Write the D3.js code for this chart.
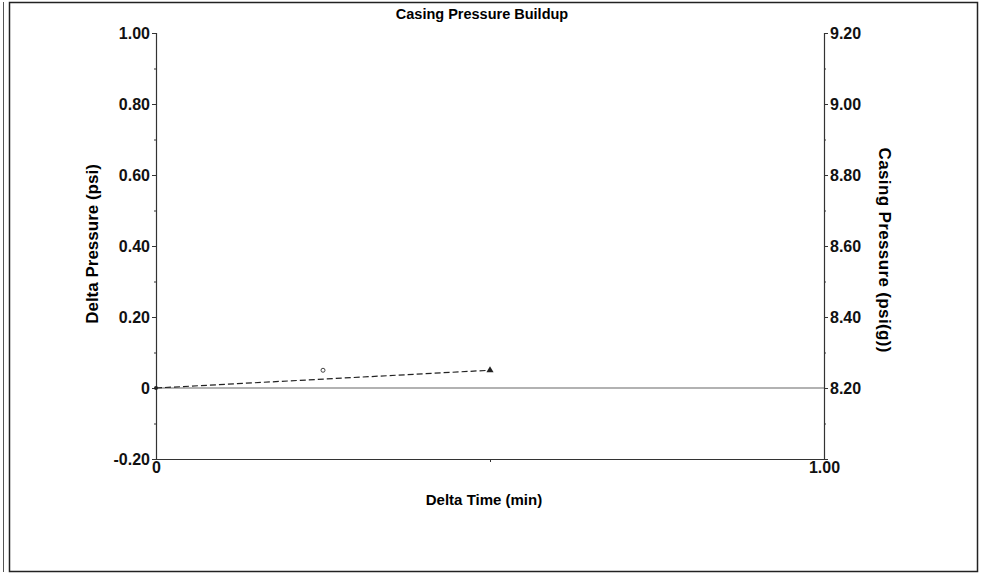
<!DOCTYPE html>
<html>
<head>
<meta charset="utf-8">
<script src="https://cdn.jsdelivr.net/npm/d3@7"></script>
<style>
  body { margin: 0; background: #fff; }
  svg text { font-family: Arial, "Liberation Sans", sans-serif; }
</style>
</head>
<body>
<div class="canvas"></div>
<script>
// data
const leftTicks = [-0.2, 0, 0.2, 0.4, 0.6, 0.8, 1.0];
const rightTicks = [8.2, 8.4, 8.6, 8.8, 9.0, 9.2];
const xTicks = [0, 1.0];
const lineTimes = [0, 0.5];
const lineDeltas = [0, 0.05];
const circleTimes = [0.25];
const circleDeltas = [0.05];

const width = 983;
const height = 574;

const svg = d3
  .select(".canvas")
  .append("svg")
  .attr("width", width)
  .attr("height", height);

// page border (scanned double frame)
svg.append("rect")
  .attr("x", 9.5).attr("y", 2.5)
  .attr("width", 968).attr("height", 569)
  .attr("fill", "none").attr("stroke", "#222").attr("stroke-width", 1.5);
svg.append("line")
  .attr("x1", 3.5).attr("y1", 2).attr("x2", 3.5).attr("y2", 572)
  .attr("stroke", "#555").attr("stroke-width", 1);

const plotLeft = 156, plotRight = 824, plotTop = 33, plotBottom = 459;

const x = d3.scaleLinear().domain([0, 1]).range([plotLeft, plotRight]);
const y = d3.scaleLinear().domain([-0.2, 1.0]).range([plotBottom, plotTop]);
const y2 = d3.scaleLinear().domain([8.0, 9.2]).range([plotBottom, plotTop]);

// plain hyphen for negatives, "0" for zero
const fmt = (d) => (Math.abs(d) < 1e-9 ? "0" : d.toFixed(2));

// left axis
svg.append("g")
  .attr("transform", `translate(${plotLeft},0)`)
  .call(d3.axisLeft(y).tickValues(leftTicks).tickSize(4).tickPadding(2).tickFormat(fmt));
svg.append("g")
  .attr("transform", `translate(${plotLeft},0)`)
  .call(d3.axisLeft(y).tickValues(d3.range(-0.1, 1.0, 0.2)).tickSize(2).tickFormat(""))
  .call((g) => g.select(".domain").remove());

// right axis
svg.append("g")
  .attr("transform", `translate(${plotRight},0)`)
  .call(d3.axisRight(y2).tickValues(rightTicks).tickSize(4).tickPadding(2).tickFormat(fmt));
svg.append("g")
  .attr("transform", `translate(${plotRight},0)`)
  .call(d3.axisRight(y2).tickValues(d3.range(8.1, 9.2, 0.2)).tickSize(2).tickFormat(""))
  .call((g) => g.select(".domain").remove());

// bottom axis
svg.append("g")
  .attr("transform", `translate(0,${plotBottom})`)
  .call(d3.axisBottom(x).tickValues(xTicks).tickSize(0).tickPadding(3).tickFormat(fmt));
svg.append("g")
  .attr("transform", `translate(0,${plotBottom})`)
  .call(d3.axisBottom(x).tickValues([0.5]).tickSize(3).tickFormat(""))
  .call((g) => g.select(".domain").remove());

svg.selectAll(".domain").attr("stroke", "#333").attr("stroke-width", 1.2);
svg.selectAll(".tick line").attr("stroke", "#333");
svg.selectAll(".tick text")
  .attr("font-size", 16)
  .attr("font-weight", "bold")
  .attr("fill", "#111");

// zero line
svg.append("line")
  .attr("x1", x(0)).attr("x2", x(1))
  .attr("y1", y(0)).attr("y2", y(0))
  .attr("stroke", "#666").attr("stroke-width", 1.2);

// dashed series
const pts = lineTimes.map((t, i) => [t, lineDeltas[i]]);
svg.append("path")
  .datum(pts)
  .attr("d", d3.line().x((d) => x(d[0])).y((d) => y(d[1])))
  .attr("fill", "none")
  .attr("stroke", "#222")
  .attr("stroke-width", 1.2)
  .attr("stroke-dasharray", "6,3");

svg.append("circle")
  .attr("cx", x(pts[0][0])).attr("cy", y(pts[0][1]))
  .attr("r", 2).attr("fill", "#222");

svg.append("path")
  .attr("d", d3.symbol().type(d3.symbolTriangle).size(22))
  .attr("transform", `translate(${x(pts[1][0])},${y(pts[1][1])})`)
  .attr("fill", "#222");

svg.selectAll(".open")
  .data(circleTimes)
  .enter()
  .append("circle")
  .attr("class", "open")
  .attr("cx", (d) => x(d))
  .attr("cy", (d, i) => y(circleDeltas[i]))
  .attr("r", 2)
  .attr("fill", "none")
  .attr("stroke", "#444")
  .attr("stroke-width", 1);

// titles
svg.append("text")
  .attr("x", 482).attr("y", 19)
  .attr("text-anchor", "middle")
  .attr("font-size", 14.5).attr("font-weight", "bold")
  .text("Casing Pressure Buildup");

svg.append("text")
  .attr("x", 484).attr("y", 505)
  .attr("text-anchor", "middle")
  .attr("font-size", 15).attr("font-weight", "bold")
  .text("Delta Time (min)");

svg.append("text")
  .attr("transform", "translate(98,244) rotate(-90)")
  .attr("text-anchor", "middle")
  .attr("font-size", 17).attr("font-weight", "bold")
  .text("Delta Pressure (psi)");

svg.append("text")
  .attr("transform", "translate(879,250) rotate(90)")
  .attr("text-anchor", "middle")
  .attr("font-size", 17).attr("font-weight", "bold")
  .attr("textLength", 205).attr("lengthAdjust", "spacing")
  .text("Casing Pressure (psi(g))");
</script>
</body>
</html>
